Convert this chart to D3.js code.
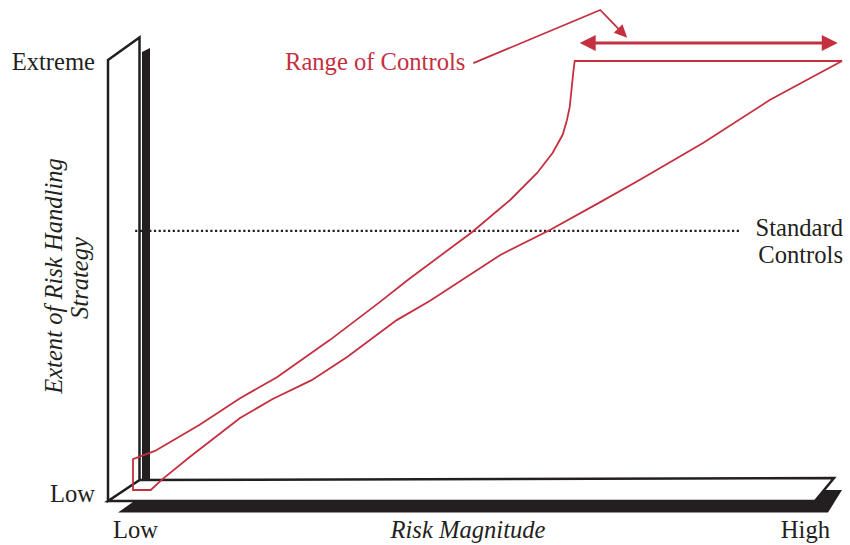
<!DOCTYPE html>
<html><head><meta charset="utf-8">
<script src="https://cdn.jsdelivr.net/npm/d3@7"></script>
<style>html,body{margin:0;padding:0;background:#fff;}svg{display:block;}</style>
</head><body>
<svg id="chart" width="850" height="545"></svg>
<script>
// ---- data (risk magnitude 0..100, extent of handling 0..100) ----
const upperX = [0, 3.1, 9.4, 15.1, 20.3, 27.8, 34.8, 38.8, 47.8, 53.2, 57.0, 59.2, 60.6, 61.2, 61.6, 62.1, 62.3, 100];
const upperY = [7.2, 9.1, 15.2, 21.4, 26.3, 35.0, 43.8, 49.0, 60.1, 67.6, 73.9, 78.6, 82.8, 86.2, 89.3, 97.4, 100, 100];
const lowerX = [0, 2.5, 4.2, 8.0, 15.1, 19.7, 25.2, 30.2, 37.2, 41.9, 51.8, 58.8, 65.9, 71.5, 80.4, 89.8, 100];
const lowerY = [0, 0, 2.6, 7.7, 16.8, 21.2, 25.6, 31.0, 39.6, 44.1, 54.8, 60.6, 67.1, 72.3, 80.9, 90.9, 100];
const standardLevel = 60.4;
const standardSpan = [0.3, 85.6];
const rangeArrowX = [63.0, 99.4];
const rangeArrowY = 104.2;
const calloutX = [48.0, 65.9, 69.7];
const calloutY = [99.5, 111.9, 105.4];
const yTickLabels = ["Low", "Extreme"];
const xTickLabels = ["Low", "High"];
const xTitle = "Risk Magnitude";
const yTitle = ["Extent of Risk Handling", "Strategy"];
const rangeLabel = "Range of Controls";
const standardLabel = ["Standard", "Controls"];

const RED = "#c4303f", INK = "#231f20";
const FONT = "'Liberation Serif','Times New Roman',serif";
const FS = 24.6;

const svg = d3.select("#chart");
const x = d3.scaleLinear().domain([0, 100]).range([133, 842]);
const y = d3.scaleLinear().domain([0, 100]).range([490, 61]);

// ---- 3D frame (floor + wall) ----
const poly = pts => "M" + pts.map(p => p.join(",")).join("L") + "Z";
svg.append("path").attr("d", poly([[118,512.5],[150,490],[842,490],[828,512.5]])).attr("fill", INK);
svg.append("path").attr("d", poly([[108,501],[138,480],[834,478],[815,501]]))
  .attr("fill", "#fff").attr("stroke", INK).attr("stroke-width", 2.5).attr("stroke-linejoin", "miter");
svg.append("path").attr("d", poly([[142,52],[150,48],[150,480],[142,480]])).attr("fill", INK);
svg.append("path").attr("d", poly([[108,60],[139.5,37.5],[139.5,480],[108,501]]))
  .attr("fill", "#fff").attr("stroke", INK).attr("stroke-width", 2.5).attr("stroke-linejoin", "miter");

// ---- standard controls dotted line ----
svg.append("line")
  .attr("x1", x(standardSpan[0])).attr("x2", x(standardSpan[1]))
  .attr("y1", y(standardLevel)).attr("y2", y(standardLevel))
  .attr("stroke", INK).attr("stroke-width", 2.4).attr("stroke-dasharray", "2.2,2.5");

// ---- range of controls polygon ----
const upper = upperX.map((v, i) => [v, upperY[i]]);
const lower = lowerX.map((v, i) => [v, lowerY[i]]);
const ring = upper.concat(lower.slice().reverse().slice(1));
const line = d3.line().x(d => x(d[0])).y(d => y(d[1]));
svg.append("path").attr("d", line(ring) + "Z")
  .attr("fill", "none").attr("stroke", RED).attr("stroke-width", 1.8).attr("stroke-linejoin", "miter");

// ---- arrowheads ----
function head(tip, from, len, half) {
  const dx = tip[0] - from[0], dy = tip[1] - from[1];
  const L = Math.hypot(dx, dy), ux = dx / L, uy = dy / L;
  const bx = tip[0] - ux * len, by = tip[1] - uy * len;
  return poly([tip, [bx - uy * half, by + ux * half], [bx + uy * half, by - ux * half]]);
}
const aL = [x(rangeArrowX[0]), y(rangeArrowY)], aR = [x(rangeArrowX[1]), y(rangeArrowY)];
svg.append("line").attr("x1", aL[0] + 10).attr("x2", aR[0] - 10).attr("y1", aL[1]).attr("y2", aR[1])
  .attr("stroke", RED).attr("stroke-width", 3);
svg.append("path").attr("d", head(aL, aR, 16, 8)).attr("fill", RED);
svg.append("path").attr("d", head(aR, aL, 16, 8)).attr("fill", RED);

const cPts = calloutX.map((v, i) => [x(v), y(calloutY[i])]);
const tip = cPts[2], prev = cPts[1];
const cl = Math.hypot(tip[0]-prev[0], tip[1]-prev[1]);
const stop = [tip[0] - (tip[0]-prev[0]) / cl * 9, tip[1] - (tip[1]-prev[1]) / cl * 9];
svg.append("path").attr("d", d3.line()([cPts[0], cPts[1], stop]))
  .attr("fill", "none").attr("stroke", RED).attr("stroke-width", 1.8);
svg.append("path").attr("d", head(tip, prev, 13, 6)).attr("fill", RED);

// ---- texts ----
const txt = (s, px, py, anchor, opts = {}) => svg.append("text").text(s)
  .attr("x", px).attr("y", py).attr("text-anchor", anchor)
  .attr("font-family", FONT).attr("font-size", FS)
  .attr("font-style", opts.italic ? "italic" : "normal")
  .attr("fill", opts.fill || INK).attr("transform", opts.transform || null);

txt(yTickLabels[1], 95, 70, "end");
txt(yTickLabels[0], 95, 502, "end");
txt(xTickLabels[0], 113, 538, "start");
txt(xTickLabels[1], 830, 538, "end");
txt(xTitle, 468, 538, "middle", {italic: true});
txt(rangeLabel, 285, 70, "start", {fill: RED});
txt(standardLabel[0], 843, 236, "end");
txt(standardLabel[1], 843, 263, "end");
txt(yTitle[0], 0, 0, "middle", {italic: true, transform: "translate(62,276) rotate(-90)"});
txt(yTitle[1], 0, 0, "middle", {italic: true, transform: "translate(88,278) rotate(-90)"});
</script>
</body></html>
